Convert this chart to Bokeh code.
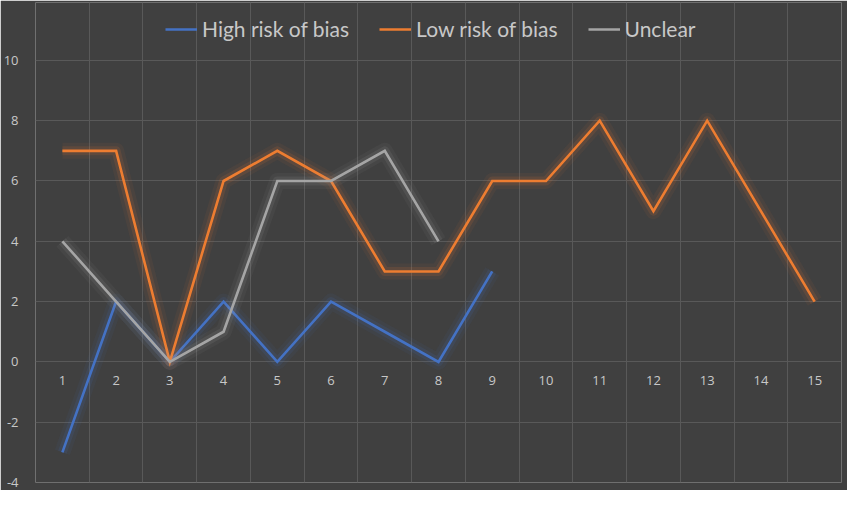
from bokeh.plotting import figure
from bokeh.models import Range1d, FixedTicker, Legend, LegendItem
from bokeh.core.properties import value
from bokeh.embed import file_html
from bokeh.resources import INLINE

categories = list(range(1, 16))
x_labels = [str(c) for c in categories]
high_risk = [-3, 2, 0, 2, 0, 2, 1, 0, 3]
low_risk = [7, 7, 0, 6, 7, 6, 3, 3, 6, 6, 8, 5, 8, 5, 2]
unclear = [4, 2, 0, 1, 6, 6, 7, 4]
y_ticks = [-4, -2, 0, 2, 4, 6, 8, 10]
y_labels = [str(t) for t in y_ticks]

series = [
    ("High risk of bias", high_risk, "#4472C4"),
    ("Low risk of bias", low_risk, "#ED7D31"),
    ("Unclear", unclear, "#A5A5A5"),
]

BG = "#404040"
GRID = "#595959"
TXT = "#C8C8C8"

# extra headroom above 10 holds the legend (no grid drawn there)
p = figure(width=847, height=490, output_backend="svg", toolbar_location=None,
           x_range=Range1d(0.5, 15.5), y_range=Range1d(-4, 11.92),
           background_fill_color=BG, border_fill_color=BG,
           min_border_left=34, min_border_right=6, min_border_top=2, min_border_bottom=8)
p.outline_line_color = None

p.xaxis.visible = False
p.yaxis.ticker = FixedTicker(ticks=y_ticks)
p.yaxis.major_label_overrides = {t: s for t, s in zip(y_ticks, y_labels)}
p.yaxis.axis_line_color = None
p.yaxis.major_tick_line_color = None
p.yaxis.minor_tick_line_color = None
p.yaxis.major_label_text_color = TXT
p.yaxis.major_label_text_font = "Open Sans"
p.yaxis.major_label_text_font_size = "13px"
p.yaxis.major_label_standoff = 11

p.ygrid.ticker = FixedTicker(ticks=y_ticks)
p.ygrid.grid_line_color = GRID
p.ygrid.grid_line_width = 1
p.xgrid.ticker = FixedTicker(ticks=[c - 0.5 for c in categories] + [categories[-1] + 0.5])
p.xgrid.grid_line_color = GRID
p.xgrid.grid_line_width = 1
p.xgrid.bounds = (y_ticks[0], y_ticks[-1])

# x labels placed at the y=0 crossing
p.text(x=categories, y=[0] * len(categories), text=x_labels, text_color=TXT,
       text_font=value("Open Sans"), text_font_size="13px",
       text_align="center", text_baseline="middle", y_offset=19)

items = []
for name, vals, color in series:
    xs = categories[:len(vals)]
    p.line(xs, vals, line_color=color, line_width=16, line_alpha=0.06, line_join="round")
    p.line(xs, vals, line_color=color, line_width=9, line_alpha=0.12, line_join="round")
    r = p.line(xs, vals, line_color=color, line_width=2.6, line_join="miter")
    items.append(LegendItem(label=name, renderers=[r]))

legend = Legend(items=items, orientation="horizontal", location=(130, 441),
                background_fill_alpha=0, border_line_color=None,
                label_text_color=TXT, label_text_font="Lato", label_text_font_size="21px",
                glyph_width=32, glyph_height=20, spacing=30, label_standoff=5,
                margin=0, padding=4)
p.add_layout(legend, "center")

open("out.html", "w").write(file_html(p, INLINE))
